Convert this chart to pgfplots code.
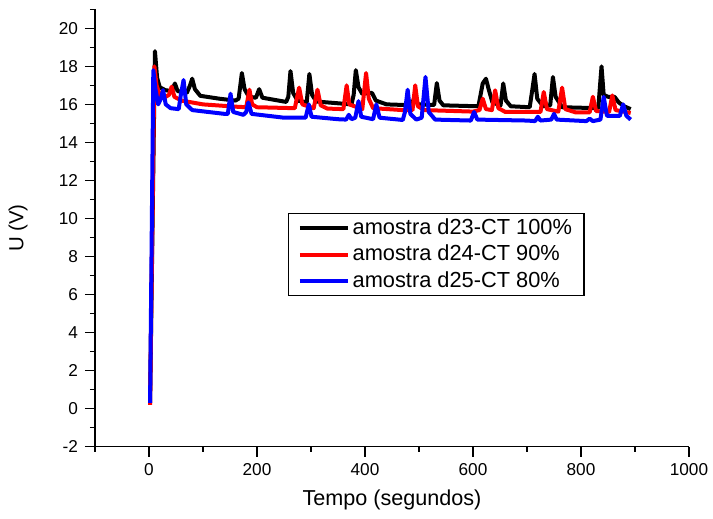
\documentclass[border=0pt]{standalone}
\usepackage{fontspec}
\setmainfont{Liberation Sans}
\usepackage{pgfplots}
\pgfplotsset{compat=1.18}

\begin{document}
\begin{tikzpicture}
\useasboundingbox (-47.5pt,-36.15pt) rectangle (309pt,223.35pt);
\begin{axis}[scale only axis,width=297pt,height=218.7pt,
  xmin=-100,xmax=1000,ymin=-2,ymax=21,
  axis x line=bottom,axis y line=left,
  axis line style={-,line width=0.75pt},
  xtick={0,200,...,1000},minor xtick={-100,100,...,900},
  ytick={-2,0,...,20},minor ytick={-1,1,...,21},
  tick align=outside,major tick length=5pt,minor tick length=2.5pt,
  every tick/.style={black,line width=0.75pt},
  /pgf/number format/assume math mode=true,
  /pgf/number format/1000 sep={},
  tick label style={font=\fontsize{8.6}{10}\selectfont},
  xlabel={Tempo (segundos)},ylabel={U (V)},
  xlabel style={font=\fontsize{10.8}{12}\selectfont,at={(axis description cs:0.5,0)},anchor=center,yshift=-26.5pt},
  ylabel style={font=\fontsize{10.2}{12}\selectfont,at={(axis description cs:-0.1296,0.5)},anchor=center},
  legend style={at={(0.325,0.5336)},anchor=north west,draw=black,line width=0.6pt,
    font=\fontsize{10.9}{12}\selectfont,inner xsep=4.6pt,inner ysep=0.6pt,row sep=0.3pt,
    nodes={inner xsep=1.4pt,inner ysep=1pt,text height=8.5pt,text depth=2.5pt}},
  legend cell align=left,
  legend image code/.code={\draw[#1,line width=2pt] (0pt,0pt) -- (24pt,0pt);},
  every axis plot/.append style={line width=2pt,line join=round,mark=none}]

\addplot[black] coordinates {
(2,0.3)(11,18.8)(15,17.4)(20,16.9)(30,16.75)(42,16.7)(48,17.1)(53,16.7)(70,16.6)(76,17.0)(80,17.35)(85,16.8)(95,16.45)
(130,16.3)(160,16.2)(166,16.3)(172,17.65)(177,16.8)(185,16.4)(198,16.35)(204,16.8)(210,16.35)
(254,16.13)(258,16.4)(262,17.75)(267,16.6)(275,16.2)(292,16.1)(297,17.6)(302,16.5)(310,16.15)
(375,16.0)(379,16.5)(383,17.8)(388,16.9)(395,16.55)(405,16.6)(413,16.6)(420,16.2)(440,16.0)
(471,15.97)(486,15.97)(492,16.4)(498,16.0)(528,15.97)(533,17.12)(538,16.2)(545,15.95)
(610,15.9)(618,17.1)(624,17.35)(629,16.8)(636,16.1)(651,15.95)(656,17.1)(661,16.2)(670,15.9)
(705,15.85)(710,16.8)(714,17.6)(719,16.3)(730,15.9)(743,15.95)(748,17.44)(753,16.4)(765,15.85)
(832,15.8)(838,18.0)(842,16.5)(850,16.4)(862,16.4)(870,16.1)(880,15.9)(892,15.75)};
\addlegendentry{amostra d23-CT 100\%}

\addplot[red] coordinates {
(2,0.2)(10,18.0)(14,17.0)(20,16.5)(28,16.35)(37,16.5)(42,16.93)(47,16.4)(60,16.2)(100,16.0)
(160,15.88)(180,15.85)(186,16.77)(191,16.0)(200,15.85)(270,15.8)(278,16.88)(284,16.0)
(305,15.8)(312,16.77)(318,15.95)(330,15.78)(360,15.75)(366,17.0)(371,16.0)(395,15.75)(402,17.65)(407,16.3)(415,15.8)
(470,15.7)(488,15.7)(493,17.0)(498,15.9)(510,15.7)(600,15.62)(612,15.7)(618,16.3)(624,15.75)
(635,15.7)(641,16.74)(647,15.8)(660,15.6)(725,15.6)(731,16.65)(737,15.75)(758,15.62)(765,16.88)(771,15.75)
(790,15.58)(816,15.58)(822,16.4)(828,15.65)(852,15.6)(858,16.47)(864,15.7)(892,15.55)};
\addlegendentry{amostra d24-CT 90\%}

\addplot[blue] coordinates {
(2,0.3)(8,17.8)(12,16.8)(17,16.0)(22,16.3)(26,16.75)(31,16.0)(40,15.8)(55,15.75)(59,16.5)(64,17.28)(69,16.0)(80,15.7)
(140,15.5)(146,15.5)(151,16.56)(156,15.6)(175,15.45)(180,15.6)(184,16.1)(190,15.5)
(250,15.3)(290,15.3)(296,16.0)(301,15.35)(350,15.22)(365,15.2)(370,15.45)(375,15.22)(382,15.3)(388,16.17)(393,15.35)
(415,15.22)(421,16.0)(427,15.3)(470,15.18)(474,15.6)(479,16.77)(484,15.5)(495,15.2)(505,15.3)(512,17.44)(518,15.6)(530,15.2)
(596,15.15)(602,15.6)(608,15.2)(700,15.15)(715,15.12)(720,15.35)(725,15.15)(745,15.2)(750,15.5)(755,15.2)
(810,15.12)(816,15.25)(822,15.12)(836,15.2)(842,16.4)(848,15.4)(872,15.4)(878,16.0)(884,15.4)(892,15.2)};
\addlegendentry{amostra d25-CT 80\%}
\end{axis}
\end{tikzpicture}
\end{document}
